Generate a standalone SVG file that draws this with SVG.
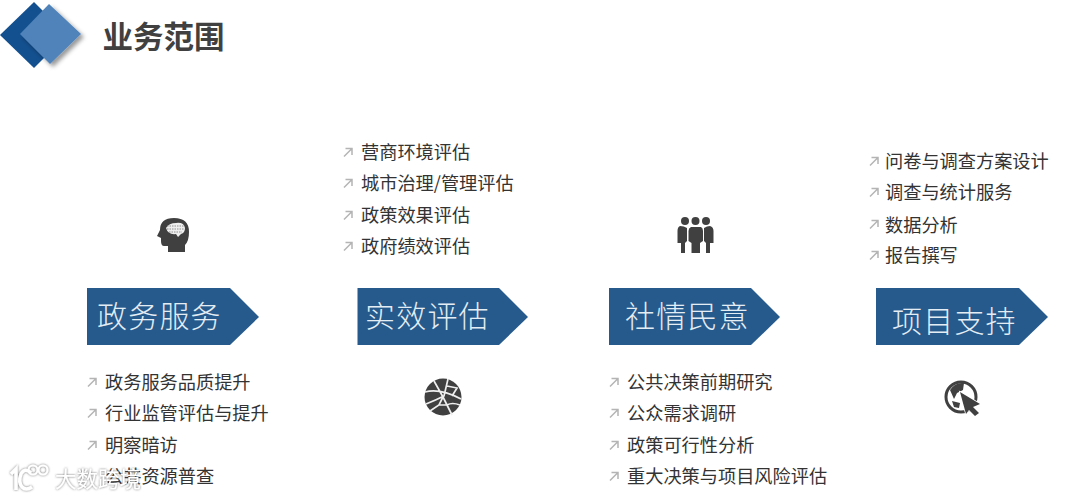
<svg xmlns="http://www.w3.org/2000/svg" width="1080" height="498" viewBox="0 0 1080 498">
<style>
text{font-family:"Noto Sans CJK SC","Noto Sans",sans-serif}
.t{font-size:18.2px;fill:#333}
.h{font-size:30px;fill:#e4edf3;letter-spacing:1.2px;font-weight:300}
.b{fill:#265a8c}
.ar{fill:none;stroke:#b4b4b4;stroke-width:1.5}
.ic{fill:#404040}
.l{fill:none;stroke:#eee;stroke-width:1.700}
</style>
<defs>
<filter id="s" x="-20%" y="-20%" width="150%" height="150%"><feDropShadow dx="3" dy="3" stdDeviation="2" flood-color="#000" flood-opacity=".4"/></filter>
<filter id="bl"><feGaussianBlur stdDeviation=".35"/></filter>
<filter id="ws" x="-10%" y="-20%" width="120%" height="140%"><feDropShadow dx="0" dy="0" stdDeviation="1.200" flood-color="#555" flood-opacity=".9"/></filter>
<symbol id="a" overflow="visible"><path class="ar" d="M1 9.500L9 1.500M2.500 1.500H9V8"/></symbol>
</defs>
<g id="title">
<polygon points="0,35 34,2 67,35 34,68" fill="#13508f"/>
<polygon points="20,34 49,4 81,34 50,64" fill="#4f83ba" filter="url(#s)"/>
<text x="102.500" y="48" font-size="30.500" font-weight="700" fill="#404040">业务范围</text>
</g>
<g id="node-1">
<polygon class="b" points="87,288 230,288 259,317 230,345 87,345"/>
<text class="h" x="97" y="327">政务服务</text>
<g filter="url(#bl)"><path class="ic" d="M168 252V246H164Q161 246 161 241L161 238L157 236L160 230Q160 218 174 218Q189 218 189 232Q189 241 185 245V252Z"/><path d="M166 228Q169 223 176 223Q184 222 185 228Q185 233 181 234L178 237L176 234Q168 235 166 228Z" fill="#eee"/><path d="M167 226H184M167 229H184M169 232H182" stroke="#777" stroke-width=".8" stroke-dasharray="1.500 1"/></g>
<use href="#a" x="87" y="377"/><text class="t" x="105" y="388.500">政务服务品质提升</text>
<use href="#a" x="87" y="408"/><text class="t" x="105" y="420">行业监管评估与提升</text>
<use href="#a" x="87" y="440"/><text class="t" x="105" y="451.500">明察暗访</text>
<text class="t" x="105" y="482.500">公共资源普查</text>
</g>
<g id="node-2">
<polygon class="b" points="357.500,288 499,288 528,317 499,345 357.500,345"/>
<text class="h" x="365" y="327">实效评估</text>
<g filter="url(#bl)"><circle class="ic" cx="443" cy="397" r="18.500"/><path class="l" d="M425 392Q440 388 461 399M426 404Q436 400 444 396L448 379M434 381Q438 388 443 397L447 405L452 415M443 397L439 405L430 411M447 405Q452 402 460 405M447 386L457 388L452 396M439 405L447 405"/></g>
<use href="#a" x="343" y="147"/><text class="t" x="361" y="158.500">营商环境评估</text>
<use href="#a" x="343" y="178"/><text class="t" x="361" y="190">城市治理/管理评估</text>
<use href="#a" x="343" y="210"/><text class="t" x="361" y="221.500">政策效果评估</text>
<use href="#a" x="343" y="241"/><text class="t" x="361" y="252.500">政府绩效评估</text>
</g>
<g id="node-3">
<polygon class="b" points="609,288 751,288 780,317 751,345 609,345"/>
<text class="h" x="625" y="327">社情民意</text>
<g filter="url(#bl)"><circle class="ic" cx="685" cy="221" r="4"/><circle class="ic" cx="695.500" cy="221" r="4"/><circle class="ic" cx="706" cy="221" r="4"/><path class="ic" d="M680 226Q684 226 687 228V241L685 243V253H681V243H677.500V231Q677.500 227 680 226ZM691 227H701Q703 228 703 231V241L700 243V253H691.500V243L688.500 241V231Q688.500 228 691 227ZM704 228Q707 226 710 226Q713.500 227 713.500 231V243H710V253H706V243L704 241Z"/></g>
<use href="#a" x="609" y="377"/><text class="t" x="627" y="388.500">公共决策前期研究</text>
<use href="#a" x="609" y="408"/><text class="t" x="627" y="420">公众需求调研</text>
<use href="#a" x="609" y="440"/><text class="t" x="627" y="451.500">政策可行性分析</text>
<use href="#a" x="609" y="471"/><text class="t" x="627" y="483">重大决策与项目风险评估</text>
</g>
<g id="node-4">
<polygon class="b" points="876,288 1019,288 1048,317 1019,345 876,345"/>
<text class="h" x="892" y="332">项目支持</text>
<g filter="url(#bl)"><circle cx="961" cy="397" r="15" fill="none" stroke="#404040" stroke-width="3"/><path class="ic" d="M950 390Q955 382 964 383L963 390L957 393L954 399ZM952 401L960 403L959 408L954 407Z"/><path d="M960 392L980 404L973 407L979 413L975 416L969 410L966 414Z" fill="#404040" stroke="#fff" stroke-width="1.500" paint-order="stroke"/></g>
<use href="#a" x="869" y="156"/><text class="t" x="885" y="168">问卷与调查方案设计</text>
<use href="#a" x="869" y="187"/><text class="t" x="885" y="199">调查与统计服务</text>
<use href="#a" x="869" y="219"/><text class="t" x="885" y="231.500">数据分析</text>
<use href="#a" x="869" y="250"/><text class="t" x="885" y="262">报告撰写</text>
</g>
<g id="connectors"></g>
<g id="watermark" filter="url(#ws)">
<path d="M11 474L16 469V490M31 473Q25 467 21 474Q18 482 22 487Q26 491 32 487" fill="none" stroke="#fff" stroke-width="3.500"/>
<circle cx="33" cy="470" r="4.500" fill="none" stroke="#fff" stroke-width="2.200"/><circle cx="43" cy="470" r="4.500" fill="none" stroke="#fff" stroke-width="2.200"/>
<text x="55" y="487" font-size="21.500" fill="#fff">大数跨境</text>
</g>
</svg>
